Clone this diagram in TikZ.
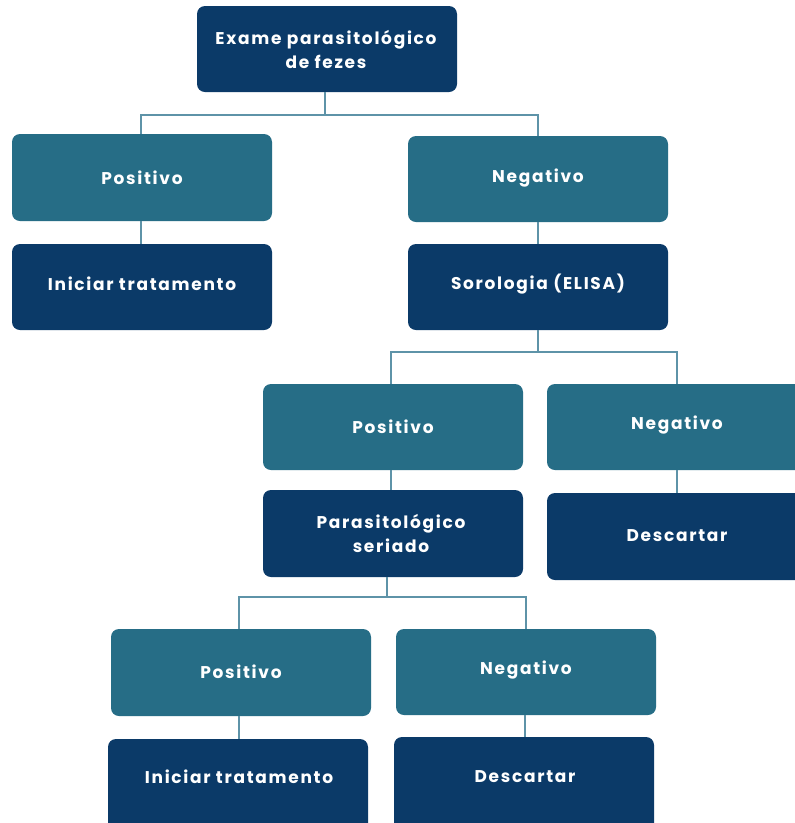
\documentclass[tikz,border=0pt]{standalone}
\usepackage{fontspec}
\setmainfont{Poppins}[LetterSpace=10]
\definecolor{navy}{HTML}{0B3A68}
\definecolor{teal}{HTML}{266D86}
\definecolor{lnk}{HTML}{5E93A8}
\begin{document}
\begin{tikzpicture}[x=1pt,y=-1pt,
  box/.style={rounded corners=8pt,text=white,font=\fontsize{17}{24}\selectfont\bfseries,align=center},
  dk/.style={box,fill=navy},
  tl/.style={box,fill=teal},
  lk/.style={draw=lnk,line width=1.4pt}]
\useasboundingbox (0,0) rectangle (795,823);
\clip (0,0) rectangle (795,823);
\fill[white] (0,0) rectangle (795,823);
% boxes
\fill[dk] (197,6) rectangle (457,92);
\node[box] (top) at (326,49) {Exame parasitológico\\de fezes};
\fill[tl] (12,134) rectangle (272,221);
\node[box] (p1) at (142,178) {Positivo};
\fill[tl] (408,136) rectangle (668,222);
\node[box] (n1) at (538,178) {Negativo};
\fill[dk] (12,244) rectangle (272,330);
\node[box] (t1) at (142,284) {Iniciar tratamento};
\fill[dk] (408,244) rectangle (668,330);
\node[box] (s1) at (538,284) {Sorologia (ELISA)};
\fill[tl] (263,384) rectangle (523,470);
\node[box] (p2) at (393,427) {Positivo};
\fill[tl] (547,384) rectangle (807,470);
\node[box] (n2) at (677,425) {Negativo};
\fill[dk] (263,490) rectangle (523,577);
\node[box] (ps) at (391,533) {Parasitológico\\seriado};
\fill[dk] (547,493) rectangle (807,580);
\node[box] (d2) at (677,536) {Descartar};
\fill[tl] (111,629) rectangle (371,716);
\node[box] (p3) at (241,672) {Positivo};
\fill[tl] (396,629) rectangle (656,715);
\node[box] (n3) at (526,670) {Negativo};
\fill[dk] (108,739) rectangle (368,835);
\node[box] (t3) at (239,777) {Iniciar tratamento};
\fill[dk] (394,737) rectangle (654,835);
\node[box] (d3) at (525,777) {Descartar};
% connectors
\coordinate (a0) at (325,92);
\coordinate (a1) at (325,115);
\draw[lk] (a0) -- (a1);
\draw[lk] (141,134) |- (a1) -| (538,136);
\draw[lk] (141,221) -- (141,244);
\draw[lk] (538,222) -- (538,244);
\coordinate (b0) at (538,330);
\coordinate (b1) at (538,352);
\draw[lk] (b0) -- (b1);
\draw[lk] (391,384) |- (b1) -| (677,384);
\draw[lk] (391,470) -- (391,490);
\draw[lk] (677,470) -- (677,493);
\coordinate (c0) at (387,577);
\coordinate (c1) at (387,597);
\draw[lk] (c0) -- (c1);
\draw[lk] (239,629) |- (c1) -| (526,629);
\draw[lk] (239,716) -- (239,739);
\draw[lk] (525,715) -- (525,737);
\end{tikzpicture}
\end{document}
